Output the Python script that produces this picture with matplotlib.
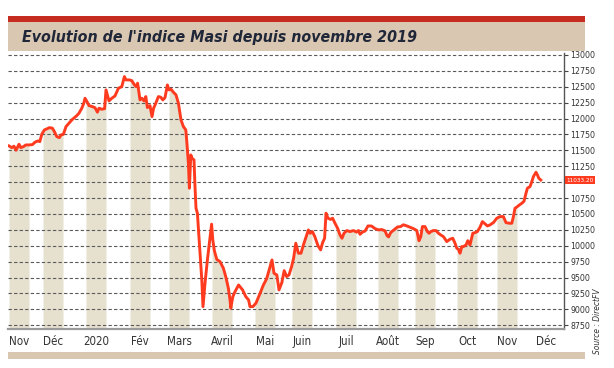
import os
import numpy as np
import matplotlib
matplotlib.use("Agg")
import matplotlib.pyplot as plt
import matplotlib.transforms as mtransforms
import matplotlib.font_manager as fm
from matplotlib.patches import Rectangle

# index de seance et cloture du MASI
sessions = [0.5, 1.9, 3, 4, 4.9, 5.5, 6.4, 7.7, 8.9, 10.5, 12.2, 13.5, 14.9, 15.9, 16.9,
            18.2, 19.4, 20.7, 22.2, 23.2, 24.4, 25.7, 26.5, 27.7, 29, 30.5, 31.9, 33.2,
            34.4, 35.5, 36.9, 37.9, 38.5, 39.5, 40.5, 42, 43.5, 44.7, 45.5, 46.9, 48.3,
            49, 50.5, 51.9, 53.5, 55.2, 56.9, 58.2, 59, 60.7, 61.9, 63, 64, 64.8, 65.4,
            66, 66.9, 68, 68.9, 69.7, 71, 72, 72.8, 73.9, 75.2, 76.4, 77.4, 78.5, 79.7,
            80.5, 81.5, 82.7, 84, 85.2, 86.5, 87.7, 88.9, 89.4, 90.2, 90.7, 91.4, 92,
            93, 93.5, 94, 94.7, 95.7, 96.9, 97.5, 98.5, 99.7, 100.7, 101.8, 102.4, 103.2,
            104.4, 106, 107.7, 109, 110.2, 111, 111.4, 112.4, 113.5, 115.3, 117.3, 118.9,
            120.3, 121, 122.5, 124, 126, 127.7, 129.3, 131.3, 132, 133, 134.4, 135.5,
            136.9, 138.1, 139.3, 140.5, 141.8, 142.8, 143.9, 145.2, 146.5, 147.7, 148.8,
            150.2, 151.1, 152.2, 153.4, 155, 156.3, 157.3, 158.3, 159, 160, 161.3, 162.3,
            163.5, 164.8, 166, 167, 168, 169.4, 171, 172.7, 174.3, 175.2, 176, 177.4,
            178.5, 180, 181.8, 183.5, 185.2, 186.9, 188.5, 189.5, 190.3, 191.4, 193,
            194.7, 196.3, 197.7, 199.4, 201, 202.7, 204.4, 205.5, 206.4, 207.2, 208.5,
            209.7, 210.5, 211.4, 212.7, 214, 215.2, 216.4, 217.7, 219.4, 221, 222.4,
            223.5, 224.4, 225.2, 226, 226.9, 227.7, 229, 229.9, 231, 232.4, 233.5, 234.7,
            236, 237.2, 238.5, 239.7, 241, 242.7, 244.4, 246, 247.7, 249, 250.7, 251.9,
            252.7, 253.5, 254.7, 255.7, 256.9, 258, 259, 259.7, 261, 261.9, 262.7, 264,
            264.7, 265.4, 266.4]
masi = [11569, 11543, 11565, 11502, 11558, 11596, 11543, 11558, 11585, 11585, 11590,
        11628, 11648, 11637, 11753, 11821, 11837, 11857, 11848, 11794, 11716, 11700,
        11742, 11753, 11873, 11926, 11978, 12014, 12046, 12084, 12162, 12241, 12319,
        12266, 12203, 12190, 12170, 12100, 12162, 12146, 12155, 12450, 12277, 12319,
        12355, 12476, 12502, 12659, 12607, 12607, 12596, 12539, 12502, 12555, 12423,
        12293, 12319, 12277, 12345, 12172, 12203, 12030, 12162, 12241, 12345, 12335,
        12293, 12329, 12528, 12450, 12461, 12414, 12371, 12241, 11978, 11873, 11821,
        11637, 11298, 10905, 11428, 11376, 11349, 10930, 10590, 10512, 10040, 9463,
        9043, 9411, 9777, 10040, 10340, 10092, 9920, 9785, 9751, 9647, 9500, 9330,
        9150, 9020, 9200, 9279, 9384, 9306, 9200, 9149, 9043, 9045, 9100, 9250, 9384,
        9480, 9699, 9777, 9568, 9542, 9306, 9420, 9609, 9516, 9542, 9672, 9804, 10040,
        9883, 9883, 10013, 10118, 10249, 10197, 10223, 10144, 10000, 9935, 10050,
        10118, 10512, 10433, 10415, 10433, 10354, 10276, 10170, 10118, 10197, 10239,
        10223, 10239, 10215, 10240, 10180, 10220, 10230, 10312, 10310, 10270, 10250,
        10255, 10235, 10160, 10140, 10210, 10250, 10295, 10302, 10330, 10312, 10291,
        10270, 10240, 10080, 10144, 10302, 10302, 10223, 10197, 10223, 10239, 10239,
        10197, 10170, 10144, 10066, 10103, 10118, 10040, 9961, 9945, 9883, 9987, 9987,
        10013, 10080, 10013, 10197, 10207, 10223, 10291, 10380, 10344, 10312, 10328,
        10364, 10433, 10459, 10459, 10364, 10354, 10354, 10459, 10590, 10616, 10642,
        10668, 10700, 10826, 10905, 10930, 11008, 11087, 11156, 11114, 11062, 11033.20]

month_labels = ["Nov", "Déc", "2020", "Fév", "Mars", "Avril", "Mai", "Juin",
                "Juil", "Août", "Sep", "Oct", "Nov", "Déc"]
month_pos = [5.5, 22.5, 44, 66, 85.5, 107, 128.5, 147, 169, 190, 208.5, 229.5, 249.5, 269]

y_ticks = list(range(8750, 13001, 250))

title = "Evolution de l'indice Masi depuis novembre 2019"
source = "Source : DirectFV"


def pick_font(files, size, **fallback):
    # cherche une police etroite installee, sinon DejaVu condensee
    for name in files:
        for f in fm.fontManager.ttflist:
            if os.path.basename(f.fname).lower() == name.lower():
                return fm.FontProperties(fname=f.fname, size=size)
    return fm.FontProperties(family="DejaVu Sans", stretch="condensed", size=size, **fallback)


f_title = pick_font(["LiberationSansNarrow-BoldItalic.ttf", "DejaVuSansCondensed-BoldOblique.ttf"],
                    11.4, weight="bold", style="italic")
f_month = pick_font(["LiberationSansNarrow-Regular.ttf", "DejaVuSansCondensed.ttf"], 8.3)
f_ytick = pick_font(["LiberationSansNarrow-Regular.ttf", "DejaVuSansCondensed.ttf"], 6.3)
f_last = pick_font(["LiberationSansNarrow-Regular.ttf", "DejaVuSansCondensed.ttf"], 4.6)
f_source = pick_font(["LiberationSansNarrow-Italic.ttf", "DejaVuSansCondensed-Oblique.ttf"],
                     6, style="italic")

red_line = "#ff3b1f"
band_col = "#e6e0cf"
beige = "#dac7b2"
title_red = "#c72c21"

W, H = 614, 368
fig = plt.figure(figsize=(W / 100, H / 100), dpi=100)
fig.patch.set_facecolor("white")

# bandeau du titre
fig.patches.append(Rectangle((8 / W, 1 - 22 / H), 577 / W, 6 / H, transform=fig.transFigure,
                             color=title_red, lw=0))
fig.patches.append(Rectangle((8 / W, 1 - 51 / H), 577 / W, 29 / H, transform=fig.transFigure,
                             color=beige, lw=0))
fig.text(22 / W, 1 - 37.5 / H, title, ha="left", va="center", fontproperties=f_title,
         color="#1f2738")

# barre du bas
fig.patches.append(Rectangle((8 / W, 1 - 359 / H), 577 / W, 7 / H, transform=fig.transFigure,
                             color=beige, lw=0))

ax = fig.add_axes([8 / W, 1 - 329 / H, 556 / W, 276 / H])
ymin, ymax = 8692, 13030
ax.set_xlim(0, 278)
ax.set_ylim(ymin, ymax)

# bandes des mois (remplies sous la courbe)
for c in month_pos[:-1]:
    xs = np.linspace(c - 5, c + 5, 80)
    ys = np.interp(xs, sessions, masi)
    ax.fill_between(xs, ymin, ys, color=band_col, lw=0, zorder=1)

for t in y_ticks:
    ax.axhline(t, color="#5a5a5a", lw=0.8, linestyle=(0, (3, 2)), zorder=1.5)

ax.plot(sessions, masi, color=red_line, lw=2.1, zorder=3, solid_joinstyle="round")

ax.yaxis.tick_right()
ax.set_yticks(y_ticks)
ax.set_yticklabels(["" if abs(t - masi[-1]) < 100 else str(t) for t in y_ticks])
ax.set_xticks(month_pos)
ax.set_xticklabels(month_labels)
ax.tick_params(axis="y", length=3, width=0.8, color="#444444", labelcolor="#333333", pad=1.5)
ax.tick_params(axis="x", length=0, labelcolor="#333333", pad=4)
for lab in ax.get_xticklabels():
    lab.set_fontproperties(f_month)
for lab in ax.get_yticklabels():
    lab.set_fontproperties(f_ytick)

for s in ["left", "top"]:
    ax.spines[s].set_visible(False)
ax.spines["right"].set_color("#555555")
ax.spines["right"].set_linewidth(1.0)
ax.spines["bottom"].set_color("#9a9a9a")
ax.spines["bottom"].set_linewidth(1.6)
ax.set_facecolor("none")

# etiquette de la derniere valeur
trans = mtransforms.blended_transform_factory(ax.transAxes, ax.transData)
ax.text(1.004, masi[-1], f"{masi[-1]:.2f}", transform=trans, ha="left", va="center",
        fontproperties=f_last, color="white", clip_on=False, zorder=5,
        bbox=dict(boxstyle="square,pad=0.2", fc=red_line, ec="none"))

fig.text(598 / W, 1 - 321 / H, source, rotation=90, ha="center", va="center",
         fontproperties=f_source, color="#333333")

fig.savefig("out.png", dpi=100)
